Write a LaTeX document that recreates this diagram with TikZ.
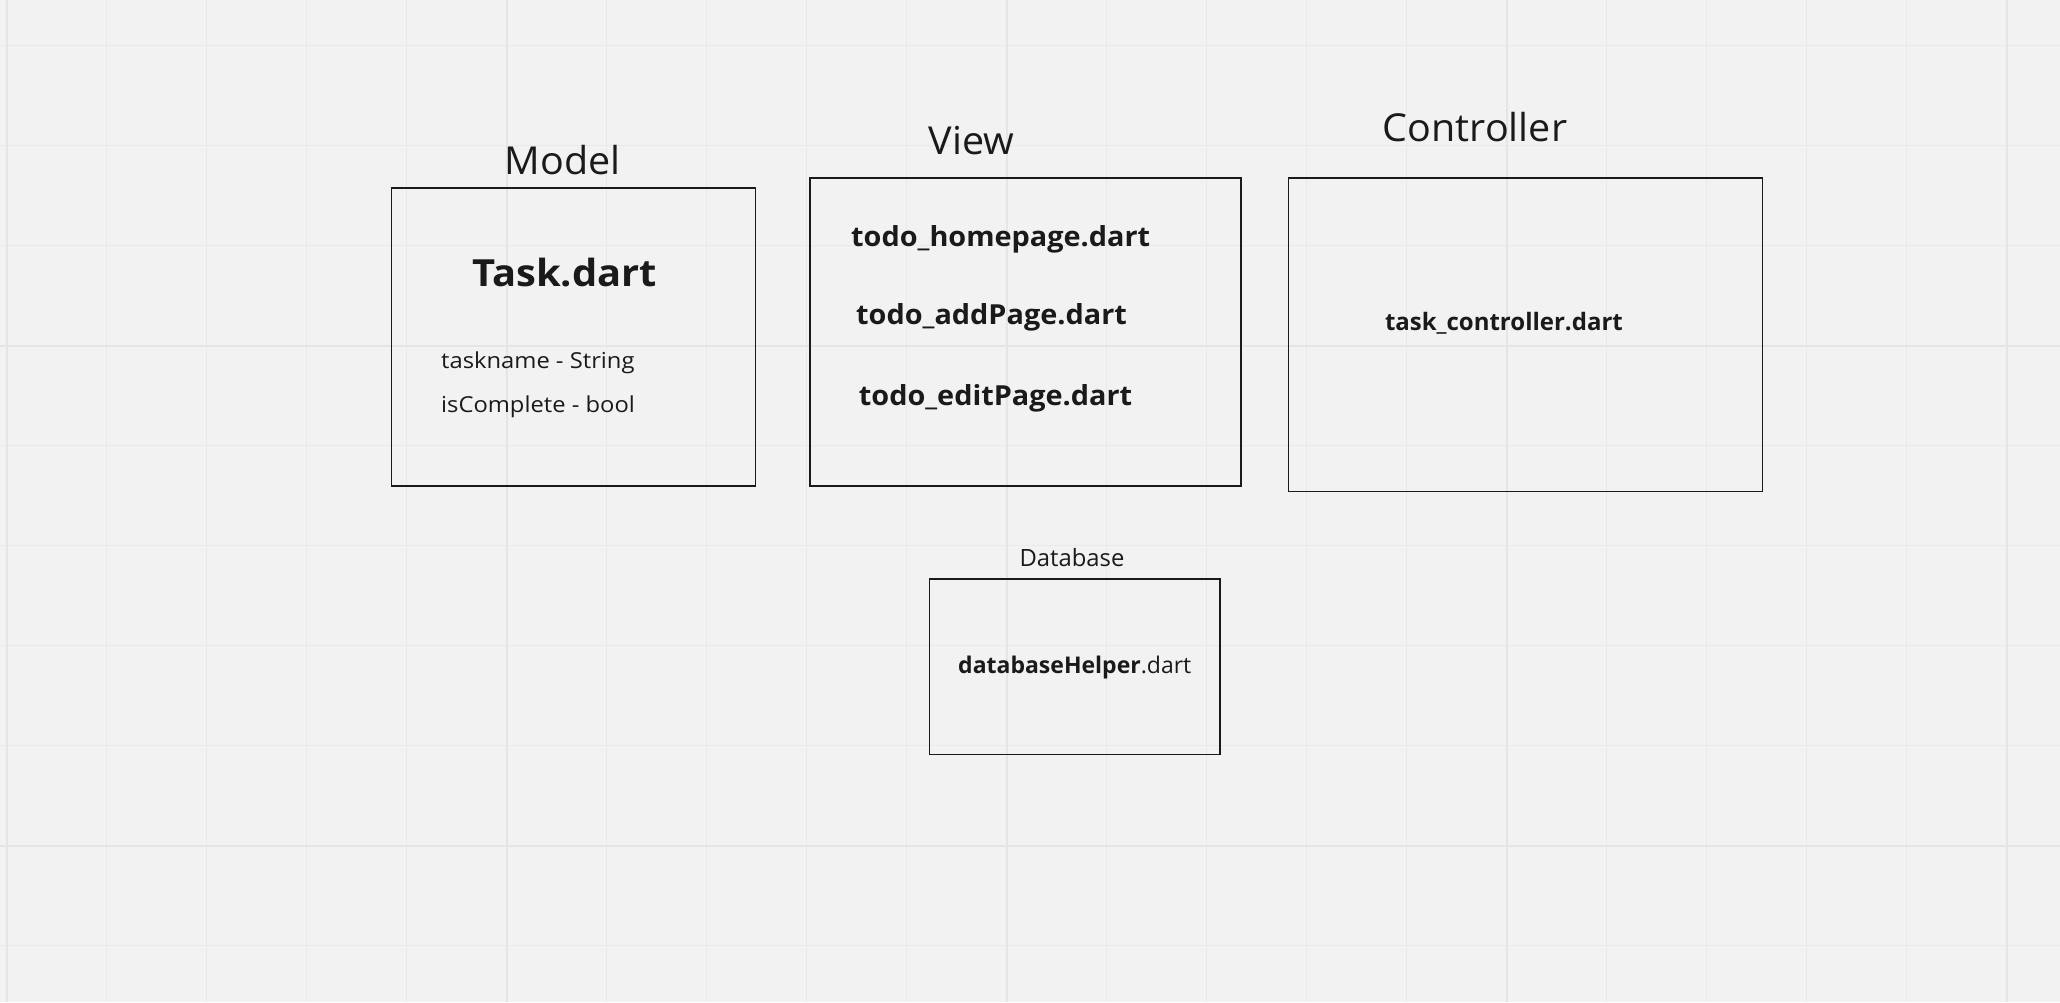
\documentclass[tikz,border=0pt]{standalone}
\usepackage{fontspec}
\setmainfont{Open Sans}
\newfontfamily\titlefont{Open Sans}[FakeStretch=1.025]
\newfontfamily\taskfont{Open Sans}[FakeStretch=1.066]
\newfontfamily\attrfont{Open Sans}[FakeStretch=1.08]
\newfontfamily\viewfont{Open Sans}[FakeStretch=1.045]
\definecolor{bg}{HTML}{F2F2F2}
\definecolor{gridthin}{HTML}{EAEAEA}
\definecolor{gridthick}{HTML}{E5E5E5}
\definecolor{ink}{HTML}{1A1A1A}
\tikzset{
  box/.style={draw=ink, line width=1.8pt, inner sep=0pt, outer sep=0pt, rectangle},
  title/.style={inner sep=0pt, anchor=base, text=ink, font=\titlefont\fontsize{38.5}{40}\selectfont},
  filebig/.style={inner sep=0pt, anchor=base, text=ink, font=\taskfont\fontsize{37.4}{40}\selectfont\bfseries},
  fileview/.style={inner sep=0pt, anchor=base west, text=ink, font=\viewfont\fontsize{27.6}{30}\selectfont\bfseries},
  filectrl/.style={inner sep=0pt, anchor=base west, text=ink, font=\fontsize{24}{26}\selectfont\bfseries},
  filesmall/.style={inner sep=0pt, anchor=base west, text=ink, font=\fontsize{23}{26}\selectfont\bfseries},
  attr/.style={inner sep=0pt, anchor=base west, text=ink, font=\attrfont\fontsize{22}{24}\selectfont},
  sublabel/.style={inner sep=0pt, anchor=base, text=ink, font=\fontsize{23.8}{26}\selectfont},
}
\begin{document}
\begin{tikzpicture}[x=1pt,y=-1pt]
\useasboundingbox (0,0) rectangle (2060,1002);
\fill[bg] (0,0) rectangle (2060,1002);
% grid
\foreach \k in {0,...,20} {
  \draw[gridthin, line width=1.2pt] ({6.7+100*\k},0) -- ({6.7+100*\k},1002);
}
\foreach \k in {0,...,9} {
  \draw[gridthin, line width=1.2pt] (0,{45.7+100*\k}) -- (2060,{45.7+100*\k});
}
\foreach \k in {0,...,4} {
  \draw[gridthick, line width=2pt] ({6.7+500*\k},0) -- ({6.7+500*\k},1002);
}
\foreach \yy in {345.7,845.7} {
  \draw[gridthick, line width=2pt] (0,\yy) -- (2060,\yy);
}
% Model
\node[title] (modellbl) at (562.5,174) {Model};
\node[box, minimum width=363.9pt, minimum height=298pt] (modelbox) at (573.45,337) {};
\node[filebig] (task) at (564.7,286.7) {Task.dart};
\node[attr] (taskname) at (441,368) {taskname - String};
\node[attr] (iscomplete) at (441,412.7) {isComplete - bool};
% View
\node[title] (viewlbl) at (971.6,154.5) {View};
\node[box, minimum width=431.1pt, minimum height=308pt] (viewbox) at (1025.15,331.7) {};
\node[fileview] (home) at (851,246) {todo\_homepage.dart};
\node[fileview] (add) at (856,324.6) {todo\_addPage.dart};
\node[fileview] (edit) at (858.7,405.8) {todo\_editPage.dart};
% Controller
\node[title] (ctrllbl) at (1475,141) {Controller};
\node[box, minimum width=473.9pt, minimum height=313.8pt] (ctrlbox) at (1525.45,334.6) {};
\node[filectrl] (ctrl) at (1384.8,330.8) {task\_controller.dart};
% Database
\node[sublabel] (dblbl) at (1072,566.5) {Database};
\node[box, minimum width=290.8pt, minimum height=175.5pt] (dbbox) at (1074.9,666.75) {};
\node[filesmall] (dbhelper) at (958,673) {databaseHelper\mdseries.dart};
\end{tikzpicture}
\end{document}
